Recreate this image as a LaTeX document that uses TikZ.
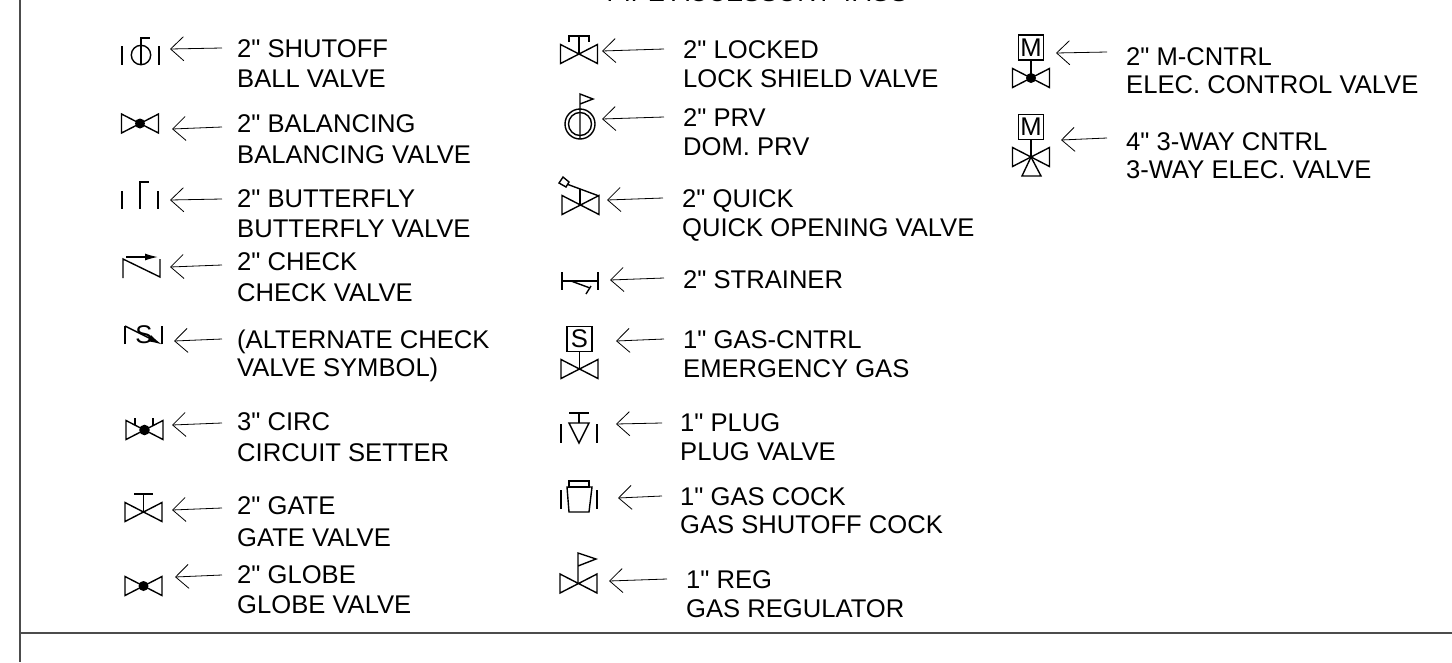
\documentclass[tikz,border=0pt]{standalone}
\usepackage{fontspec}
\setmainfont[Ligatures=TeXOff]{Liberation Sans}
\usetikzlibrary{arrows.meta}
\tikzset{>={Straight Barb[length=13pt,width=24pt]}}
\tikzset{
  tag/.style={anchor=base west, inner sep=0pt},
  tagarrow/.style={->, line width=0.8pt},
  valve/.style={line width=1.4pt},
  rule/.style={line width=2pt, black!70},
  letterbox/.style={draw, line width=1.4pt, minimum width=25pt, minimum height=25pt, inner sep=0pt},
  bowtie/.pic={\draw[valve] (-18.5,-9.5) -- (18.5,9.5) -- (18.5,-9.5) -- (-18.5,9.5) -- cycle;}
}

\begin{document}
\begin{tikzpicture}[x=1pt, y=-1pt, font=\fontsize{25.6}{30}\selectfont]
      \useasboundingbox (0, 0) rectangle (1452, 662);
      \node[anchor=base, inner sep=0pt] (title) at (757, 1.5) {PIPE ACCESSORY TAGS};
      \draw[rule] (20, 0) -- (20, 662);
      \draw[rule] (20, 633) -- (1452, 633);

      % first column
      \node[tag] (shutoffa) at (237, 57) {2" SHUTOFF};
      \node[tag] (shutoffb) at (237, 87) {BALL VALVE};
      \coordinate (shutofftail) at (222, 48);
      \coordinate (shutofftip) at (170, 49);
      \draw[tagarrow] (shutofftail) -- (shutofftip);
      \draw[valve] (122, 46) -- (122, 65);
      \draw[valve] (159, 46) -- (159, 65);
      \draw[valve] (141, 55) circle (9.7);
      \draw[valve] (141, 65) -- (141, 38) -- (150, 38);

      \node[tag] (balancea) at (237, 132.5) {2" BALANCING};
      \node[tag] (balanceb) at (237, 163) {BALANCING VALVE};
      \coordinate (balancetail) at (222, 127);
      \coordinate (balancetip) at (172, 129);
      \draw[tagarrow] (balancetail) -- (balancetip);
      \pic at (140, 123.5) {bowtie};
      \fill (140, 123.5) circle (5);

      \node[tag] (butterflya) at (237, 207) {2" BUTTERFLY};
      \node[tag] (butterflyb) at (237, 237) {BUTTERFLY VALVE};
      \coordinate (butterflytail) at (222, 199);
      \coordinate (butterflytip) at (170, 200);
      \draw[tagarrow] (butterflytail) -- (butterflytip);
      \draw[valve] (122, 191) -- (122, 209);
      \draw[valve] (158, 191) -- (158, 209);
      \draw[valve] (140, 209) -- (140, 182) -- (149, 182);

      \node[tag] (checka) at (237, 270.5) {2" CHECK};
      \node[tag] (checkb) at (237, 301) {CHECK VALVE};
      \coordinate (checktail) at (222, 265);
      \coordinate (checktip) at (170, 267);
      \draw[tagarrow] (checktail) -- (checktip);
      \draw[valve] (123, 278) -- (123, 259) -- (160, 277) -- (160, 259);
      \draw[valve, -{Latex[length=13pt, width=7pt]}] (126, 257) -- (158, 257);

      \node[tag] (alternatea) at (237, 348) {(ALTERNATE CHECK};
      \node[tag] (alternateb) at (237, 376) {VALVE SYMBOL)};
      \coordinate (alternatetail) at (222, 339);
      \coordinate (alternatetip) at (174, 341);
      \draw[tagarrow] (alternatetail) -- (alternatetip);
      \node[inner sep=0pt] (alternates) at (144, 335) {S};
      \draw[valve] (125, 344) -- (125, 326);
      \draw[valve] (162, 344) -- (162, 326);
      \draw[valve, -{Latex[length=14pt, width=7pt]}] (125, 326) -- (162, 344.5);

      \node[tag] (circa) at (237, 430) {3" CIRC};
      \node[tag] (circb) at (237, 461) {CIRCUIT SETTER};
      \coordinate (circtail) at (222, 423);
      \coordinate (circtip) at (172, 425);
      \draw[tagarrow] (circtail) -- (circtip);
      \pic at (144.5, 430) {bowtie};
      \fill (144.5, 430) circle (5.3);
      \draw[valve] (135, 425) -- (135, 418);
      \draw[valve] (153, 425) -- (153, 418);

      \node[tag] (gatea) at (237, 514) {2" GATE};
      \node[tag] (gateb) at (237, 546) {GATE VALVE};
      \coordinate (gatetail) at (222, 508);
      \coordinate (gatetip) at (172, 510);
      \draw[tagarrow] (gatetail) -- (gatetip);
      \pic at (143.5, 512) {bowtie};
      \draw[valve] (143.5, 512) -- (143.5, 494);
      \draw[valve] (134, 494) -- (153, 494);

      \node[tag] (globea) at (237, 583) {2" GLOBE};
      \node[tag] (globeb) at (237, 613) {GLOBE VALVE};
      \coordinate (globetail) at (222, 575);
      \coordinate (globetip) at (175, 577);
      \draw[tagarrow] (globetail) -- (globetip);
      \pic at (143.5, 586) {bowtie};
      \fill (143.5, 586) circle (5);

      % second column
      \node[tag] (lockeda) at (683, 58) {2" LOCKED};
      \node[tag] (lockedb) at (683, 87) {LOCK SHIELD VALVE};
      \coordinate (lockedtail) at (664, 49);
      \coordinate (lockedtip) at (602, 51);
      \draw[tagarrow] (lockedtail) -- (lockedtip);
      \pic at (579, 54) {bowtie};
      \draw[valve] (579, 54) -- (579, 36);
      \draw[valve] (569, 42) -- (569, 36) -- (589, 36) -- (589, 42);

      \node[tag] (prva) at (683, 126) {2" PRV};
      \node[tag] (prvb) at (683, 155) {DOM. PRV};
      \coordinate (prvtail) at (664, 117);
      \coordinate (prvtip) at (602, 119);
      \draw[tagarrow] (prvtail) -- (prvtip);
      \draw[valve] (580, 124) circle (15);
      \draw[valve] (580, 124) circle (11.5);
      \draw[valve] (580, 139) -- (580, 94) -- (593, 99) -- (580, 104);

      \node[tag] (quicka) at (682, 207) {2" QUICK};
      \node[tag] (quickb) at (682, 236) {QUICK OPENING VALVE};
      \coordinate (quicktail) at (663, 198);
      \coordinate (quicktip) at (607, 200);
      \draw[tagarrow] (quicktail) -- (quicktip);
      \pic at (580.5, 205) {bowtie};
      \draw[valve] (580, 205) -- (580, 188.5);
      \draw[valve] (568, 184.5) -- (599, 196);
      \draw[valve] (559, 183) -- (563, 177) -- (569, 182) -- (566, 187) -- cycle;

      \node[tag] (strainera) at (683, 288) {2" STRAINER};
      \coordinate (strainertail) at (664, 278);
      \coordinate (strainertip) at (610, 280);
      \draw[tagarrow] (strainertail) -- (strainertip);
      \draw[valve] (562, 272) -- (562, 290);
      \draw[valve] (598, 272) -- (598, 290);
      \draw[valve] (562, 281) -- (598, 281);
      \draw[valve] (571, 281) -- (590, 288);
      \draw[valve] (591, 286) -- (586, 294);

      \node[tag] (gasa) at (683, 348) {1" GAS-CNTRL};
      \node[tag] (gasb) at (683, 377) {EMERGENCY GAS};
      \coordinate (gastail) at (664, 339);
      \coordinate (gastip) at (616, 341);
      \draw[tagarrow] (gastail) -- (gastip);
      \node[letterbox] (gasbox) at (579.5, 339) {S};
      \coordinate (gascenter) at (579.5, 369);
      \pic at (gascenter) {bowtie};
      \draw[valve] (gasbox) -- (gascenter);

      \node[tag] (pluga) at (680, 431) {1" PLUG};
      \node[tag] (plugb) at (680, 460) {PLUG VALVE};
      \coordinate (plugtail) at (662, 423);
      \coordinate (plugtip) at (616, 424);
      \draw[tagarrow] (plugtail) -- (plugtip);
      \draw[valve] (561, 424) -- (561, 443);
      \draw[valve] (597, 424) -- (597, 443);
      \draw[valve] (569, 423) -- (589, 423) -- (579, 443) -- cycle;
      \draw[valve] (579, 423) -- (579, 413);
      \draw[valve] (569, 413) -- (589, 413);

      \node[tag] (cocka) at (680, 505) {1" GAS COCK};
      \node[tag] (cockb) at (680, 533) {GAS SHUTOFF COCK};
      \coordinate (cocktail) at (662, 496);
      \coordinate (cocktip) at (618, 498);
      \draw[tagarrow] (cocktail) -- (cocktip);
      \draw[valve] (561, 490) -- (561, 509);
      \draw[valve] (597, 490) -- (597, 509);
      \draw[valve] (567, 487) -- (592, 487) -- (589, 512) -- (569, 512) -- cycle;
      \draw[valve] (569, 481) rectangle (589, 487);

      \node[tag] (rega) at (686, 588) {1" REG};
      \node[tag] (regb) at (686, 617) {GAS REGULATOR};
      \coordinate (regtail) at (667, 579);
      \coordinate (regtip) at (609, 581);
      \draw[tagarrow] (regtail) -- (regtip);
      \pic at (578.5, 583.5) {bowtie};
      \draw[valve] (578, 583.5) -- (578, 553) -- (596, 559) -- (578, 566);

      % third column
      \node[tag] (cntrla) at (1126, 65) {2" M-CNTRL};
      \node[tag] (cntrlb) at (1126, 93) {ELEC. CONTROL VALVE};
      \coordinate (cntrltail) at (1107, 52);
      \coordinate (cntrltip) at (1056, 53);
      \draw[tagarrow] (cntrltail) -- (cntrltip);
      \node[letterbox] (cntrlbox) at (1031, 47.5) {M};
      \coordinate (cntrlcenter) at (1031, 78);
      \pic at (cntrlcenter) {bowtie};
      \draw[valve] (cntrlbox) -- (cntrlcenter);
      \fill (cntrlcenter) circle (5);

      \node[tag] (waya) at (1126, 150) {4" 3-WAY CNTRL};
      \node[tag] (wayb) at (1126, 178) {3-WAY ELEC. VALVE};
      \coordinate (waytail) at (1107, 138);
      \coordinate (waytip) at (1061, 140);
      \draw[tagarrow] (waytail) -- (waytip);
      \node[letterbox] (waybox) at (1031, 127) {M};
      \coordinate (waycenter) at (1031, 157);
      \pic at (waycenter) {bowtie};
      \draw[valve] (waybox) -- (waycenter);
      \draw[valve] (waycenter) -- (1022, 176) -- (1041, 176) -- cycle;
\end{tikzpicture}
\end{document}
